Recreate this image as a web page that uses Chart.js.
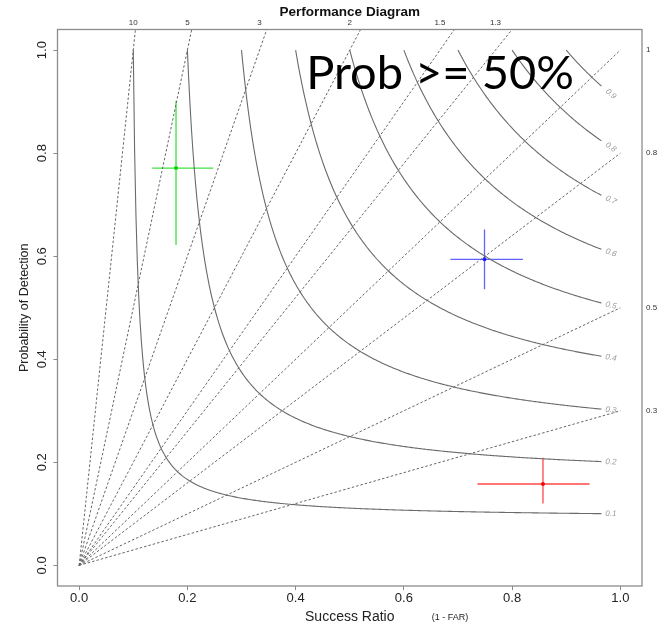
<!DOCTYPE html>
<html>
<head>
<meta charset="utf-8">
<title>Performance Diagram</title>
<script src="https://cdn.jsdelivr.net/npm/chart.js@4.4.1/dist/chart.umd.min.js"></script>
<style>
  html, body { margin: 0; padding: 0; background: #fff; }
  #wrap { width: 663px; height: 627px; }
</style>
</head>
<body>
<div id="wrap"><canvas id="perfChart" width="663" height="627"></canvas></div>
<script>
// CSI contours and frequency bias lines
const csiLevels = [0.1, 0.2, 0.3, 0.4, 0.5, 0.6, 0.7, 0.8, 0.9];
const biasLevels = [0.3, 0.5, 0.8, 1, 1.3, 1.5, 2, 3, 5, 10];
const axisTicks = [0, 0.2, 0.4, 0.6, 0.8, 1.0];

// verification points (success ratio, POD) with their ranges
const pointColors = ['rgba(0,215,0,0.75)', 'rgba(30,30,255,0.7)', 'rgba(255,0,0,0.72)'];
const srValues = [0.179, 0.749, 0.857];
const podValues = [0.771, 0.594, 0.158];
const srLow = [0.135, 0.686, 0.736];
const srHigh = [0.248, 0.820, 0.943];
const podLow = [0.622, 0.536, 0.120];
const podHigh = [0.901, 0.652, 0.209];

const FONT = '"Liberation Sans", Arial, Helvetica, sans-serif';
const AXMIN = -0.04, AXMAX = 1.04;

// POD on a CSI contour for a given success ratio
function csiPod(c, sr) {
  return 1 / (1 / c + 1 - 1 / sr);
}

var datasets = [];

// dashed bias lines from the origin
biasLevels.forEach(function (b) {
  var end = b > 1 ? {x: AXMAX / b, y: AXMAX} : {x: 1, y: b};
  datasets.push({
    data: [{x: 0, y: 0}, end],
    showLine: true, pointRadius: 0,
    borderColor: '#666', borderWidth: 1, borderDash: [2.5, 2]
  });
});

// CSI curves, stopped short of SR = 1 to leave room for the label
csiLevels.forEach(function (c) {
  var pts = [];
  for (var sr = c; sr < 0.9655; sr += 0.0025) {
    pts.push({x: sr, y: csiPod(c, sr)});
  }
  pts.push({x: 0.965, y: csiPod(c, 0.965)});
  datasets.push({
    data: pts,
    showLine: true, pointRadius: 0,
    borderColor: '#6a6a6a', borderWidth: 1.1
  });
});

// error bars + centre point
srValues.forEach(function (sr, i) {
  datasets.push({
    data: [{x: srLow[i], y: podValues[i]}, {x: srHigh[i], y: podValues[i]}],
    showLine: true, pointRadius: 0, borderColor: pointColors[i], borderWidth: 1.3
  });
  datasets.push({
    data: [{x: sr, y: podLow[i]}, {x: sr, y: podHigh[i]}],
    showLine: true, pointRadius: 0, borderColor: pointColors[i], borderWidth: 1.3
  });
  datasets.push({
    data: [{x: sr, y: podValues[i]}],
    pointRadius: 2, borderWidth: 0,
    backgroundColor: pointColors[i].replace(/[\d.]+\)$/, '1)')
  });
});

const extraDraw = {
  id: 'extraDraw',
  afterDatasetsDraw: function (chart) {
    const ctx = chart.ctx;
    const a = chart.chartArea;
    const x = chart.scales.x, y = chart.scales.y;
    ctx.save();

    // box round the plot
    ctx.strokeStyle = '#8c8c8c';
    ctx.lineWidth = 1.3;
    ctx.strokeRect(a.left, a.top, a.right - a.left, a.bottom - a.top);

    // title
    ctx.fillStyle = '#111';
    ctx.font = 'bold 13.5px ' + FONT;
    ctx.textAlign = 'center';
    ctx.textBaseline = 'middle';
    ctx.fillText('Performance Diagram', (a.left + a.right) / 2, 12);

    // bias labels: top edge for > 1, right edge otherwise
    ctx.font = '8px "Liberation Sans Narrow", ' + FONT;
    ctx.fillStyle = '#333';
    biasLevels.forEach(function (b) {
      if (b > 1) {
        ctx.textAlign = 'center';
        ctx.fillText(String(b), x.getPixelForValue(1 / b), 22.5);
      } else {
        ctx.textAlign = 'left';
        ctx.fillText(String(b), a.right + 4, y.getPixelForValue(b));
      }
    });

    // CSI labels along the end of each curve
    ctx.font = 'italic 8px ' + FONT;
    ctx.fillStyle = '#9a9a9a';
    ctx.textAlign = 'center';
    csiLevels.forEach(function (c) {
      var x0 = x.getPixelForValue(0.972), y0 = y.getPixelForValue(csiPod(c, 0.972));
      var x1 = x.getPixelForValue(0.993), y1 = y.getPixelForValue(csiPod(c, 0.993));
      var cx = x.getPixelForValue(0.9825), cy = y.getPixelForValue(csiPod(c, 0.9825));
      ctx.save();
      ctx.translate(cx, cy);
      ctx.rotate(Math.atan2(y1 - y0, x1 - x0));
      ctx.fillText(String(c), 0, 0);
      ctx.restore();
    });

    // small note next to the x title
    ctx.font = '9px ' + FONT;
    ctx.fillStyle = '#222';
    ctx.textAlign = 'center';
    ctx.fillText('(1 - FAR)', 450, 618);

    // big caption
    ctx.font = '47px Lato, "Open Sans", sans-serif';
    ctx.fillStyle = '#000';
    ctx.textAlign = 'center';
    ctx.textBaseline = 'alphabetic';
    ctx.fillText('Prob >= 50%', 440, 89);

    ctx.restore();
  }
};

const ctx = document.getElementById('perfChart').getContext('2d');
const perfChart = new Chart(ctx, {
  type: 'scatter',
  data: {datasets: datasets},
  plugins: [extraDraw],
  options: {
    responsive: false,
    animation: false,
    events: [],
    devicePixelRatio: 1,
    layout: {padding: {top: 29.5, right: 21, left: 0, bottom: 0}},
    plugins: {legend: {display: false}, tooltip: {enabled: false}, title: {display: false}},
    scales: {
      x: {
        type: 'linear', min: AXMIN, max: AXMAX,
        afterBuildTicks: function (s) { s.ticks = axisTicks.map(function (v) { return {value: v}; }); },
        afterFit: function (s) { s.height = 41; },
        border: {display: false},
        grid: {drawOnChartArea: false, drawTicks: true, tickLength: 4, color: '#888'},
        ticks: {
          padding: 1, color: '#222', maxRotation: 0,
          font: {size: 13, family: FONT},
          callback: function (v) { return v.toFixed(1); }
        },
        title: {
          display: true, text: 'Success Ratio', color: '#222',
          font: {size: 14, family: FONT}, padding: {top: 0, bottom: 1.6}
        }
      },
      y: {
        type: 'linear', min: AXMIN, max: AXMAX,
        afterBuildTicks: function (s) { s.ticks = axisTicks.map(function (v) { return {value: v}; }); },
        afterFit: function (s) { s.width = 57.5; },
        border: {display: false},
        grid: {drawOnChartArea: false, drawTicks: true, tickLength: 4, color: '#888'},
        ticks: {
          minRotation: 90, maxRotation: 90, crossAlign: 'center', padding: 2,
          color: '#222', font: {size: 13, family: FONT},
          callback: function (v) { return v.toFixed(1); }
        },
        title: {
          display: true, text: 'Probability of Detection', color: '#222',
          font: {size: 12.5, family: FONT}, padding: {top: 17, bottom: 0}
        }
      }
    }
  }
});
</script>
</body>
</html>
